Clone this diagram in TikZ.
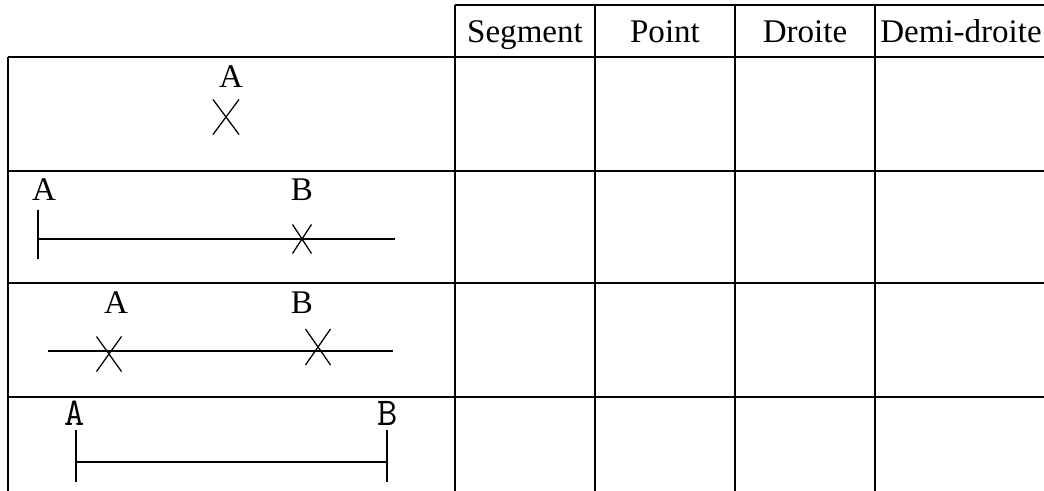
\documentclass[tikz,border=0pt]{standalone}
\usepackage{fontspec}
\setmainfont{Liberation Serif}
\newcommand{\croix}[3]{%
  \draw[trait] (#1)+(-#2,-#3) -- +(#2,#3);
  \draw[trait] (#1)+(-#2,#3) -- +(#2,-#3);}
\begin{document}
\begin{tikzpicture}[x=0.025cm,y=-0.025cm,
  grille/.style={line width=1.1pt},
  ligne/.style={line width=0.95pt},
  trait/.style={line width=0.9pt},
  titre/.style={anchor=base,font=\fontsize{23.5}{28}\selectfont},
  lettre/.style={anchor=base,font=\fontsize{23.5}{28}\selectfont},
  lettremono/.style={anchor=base,font=\ttfamily\fontsize{28}{32}\selectfont}]
  \useasboundingbox (0,0) rectangle (1044,491);

  % le tableau
  \draw[grille] (455,5) -- (1044,5);
  \draw[grille] (8,57) -- (1044,57);
  \draw[grille] (8,171) -- (1044,171);
  \draw[grille] (8,283) -- (1044,283);
  \draw[grille] (8,397) -- (1044,397);
  \draw[line width=0.8pt] (8,57) -- (8,491);
  \draw[grille] (455,5) -- (455,491);
  \draw[grille] (595,5) -- (595,491);
  \draw[grille] (735,5) -- (735,491);
  \draw[grille] (875,5) -- (875,491);

  \node[titre] (seg) at (525,43) {Segment};
  \node[titre] (pt) at (665,43) {Point};
  \node[titre] (dr) at (805,43) {Droite};
  \node[titre] (ddr) at (961,43) {Demi-droite};

  % un point
  \node[lettre] (a1) at (231,88) {A};
  \coordinate (p1) at (226,117);
  \croix{p1}{13}{17.5}

  % une demi-droite
  \node[lettre] (a2) at (44,201) {A};
  \node[lettre] (b2) at (302,201) {B};
  \coordinate (a2h) at (38,210);
  \coordinate (a2b) at (38,259);
  \coordinate (o2) at (38,239);
  \coordinate (f2) at (395,239);
  \coordinate (p2) at (302,239);
  \draw[ligne] (a2h) -- (a2b);
  \draw[ligne] (o2) -- (f2);
  \croix{p2}{9.5}{14.5}

  % une droite
  \node[lettre] (a3) at (116,313) {A};
  \node[lettre] (b3) at (302,313) {B};
  \coordinate (o3) at (48,351);
  \coordinate (f3) at (393,351);
  \coordinate (pa3) at (109,354);
  \coordinate (pb3) at (318,347);
  \draw[ligne] (o3) -- (f3);
  \croix{pa3}{12.5}{17.5}
  \croix{pb3}{12.5}{18}

  % un segment
  \node[lettremono] (a4) at (75,425) {A};
  \node[lettremono] (b4) at (388,425) {B};
  \coordinate (a4h) at (76,430);
  \coordinate (a4b) at (76,482);
  \coordinate (b4h) at (387,430);
  \coordinate (b4b) at (387,482);
  \coordinate (o4) at (76,462);
  \coordinate (f4) at (387,462);
  \draw[ligne] (a4h) -- (a4b);
  \draw[ligne] (b4h) -- (b4b);
  \draw[ligne] (o4) -- (f4);

\end{tikzpicture}
\end{document}
